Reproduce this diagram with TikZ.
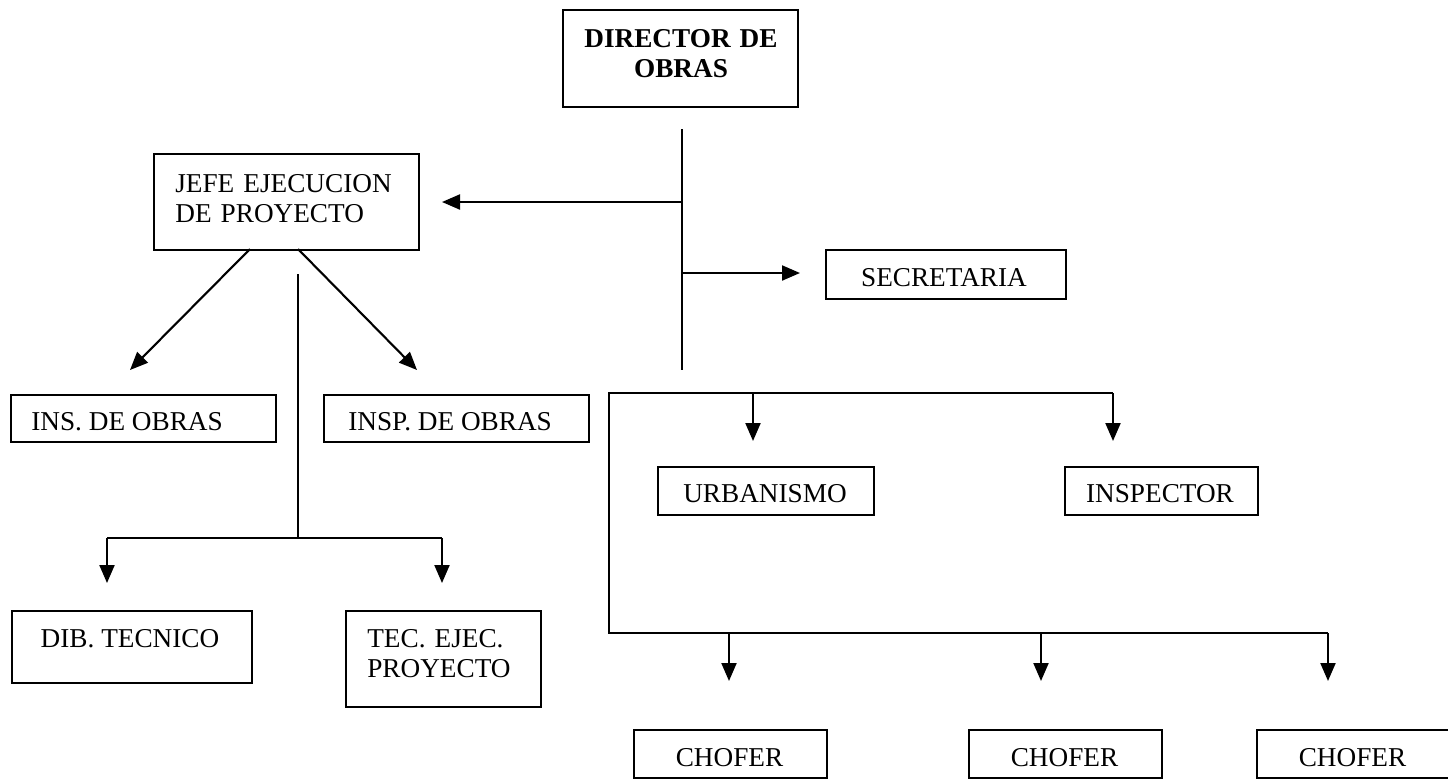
\documentclass[tikz,border=0pt]{standalone}
\usepackage{fontspec}
\setmainfont{Liberation Serif}
\usetikzlibrary{arrows.meta}
\begin{document}
\begin{tikzpicture}[x=0.02cm,y=-0.02cm,
  box/.style={draw,line width=1.1pt,inner sep=0pt,anchor=north west},
  txt/.style={inner sep=0pt,font=\fontsize{15.5}{17.6}\selectfont},
  conn/.style={line width=1.2pt},
  arr/.style={line width=1.2pt,-{Triangle[length=0.36cm,width=0.30cm]}}]
\useasboundingbox (0,0) rectangle (1448,782);
% boxes
\node[box,minimum width=4.70cm,minimum height=1.94cm] (dir) at (562,9) {};
\node[box,minimum width=5.30cm,minimum height=1.92cm] (jefe) at (153,153) {};
\node[box,minimum width=4.80cm,minimum height=0.98cm] (sec) at (825,249) {};
\node[box,minimum width=5.30cm,minimum height=0.94cm] (ins) at (10,394) {};
\node[box,minimum width=5.30cm,minimum height=0.94cm] (insp) at (323,394) {};
\node[box,minimum width=4.32cm,minimum height=0.96cm] (urb) at (657,466) {};
\node[box,minimum width=3.86cm,minimum height=0.96cm] (inspr) at (1064,466) {};
\node[box,minimum width=4.80cm,minimum height=1.44cm] (dib) at (11,610) {};
\node[box,minimum width=3.90cm,minimum height=1.92cm] (tec) at (345,610) {};
\node[box,minimum width=3.86cm,minimum height=0.96cm] (ch1) at (633,729) {};
\node[box,minimum width=3.86cm,minimum height=0.96cm] (ch2) at (968,729) {};
\node[box,minimum width=3.86cm,minimum height=0.96cm] (ch3) at (1256,729) {};
% texts
\node[txt,anchor=base,text width=4.5cm,align=center,font=\fontsize{15.5}{17.6}\selectfont\bfseries] (dirt) at (681,47) {DIRECTOR DE\\OBRAS};
\node[txt,anchor=base west,text width=5cm,align=left] (jefet) at (175,192) {JEFE EJECUCION\\DE PROYECTO};
\node[txt,anchor=base] (sect) at (944,286) {SECRETARIA};
\node[txt,anchor=base west] (inst) at (31,430) {INS. DE OBRAS};
\node[txt,anchor=base west] (inspt) at (348,430) {INSP. DE OBRAS};
\node[txt,anchor=base] (urbt) at (765,502) {URBANISMO};
\node[txt,anchor=base] (insprt) at (1160,502) {INSPECTOR};
\node[txt,anchor=base] (dibt) at (130,647) {DIB. TECNICO};
\node[txt,anchor=base west,text width=3.5cm,align=left] (tect) at (367,647) {TEC. EJEC.\\PROYECTO};
\node[txt,anchor=base] (ch1t) at (729.5,766) {CHOFER};
\node[txt,anchor=base] (ch2t) at (1064.5,766) {CHOFER};
\node[txt,anchor=base] (ch3t) at (1352.5,766) {CHOFER};
% coordinates
\coordinate (m1) at (682,129);
\coordinate (m2) at (682,370);
\coordinate (mj) at (682,202);
\coordinate (jt) at (442,202);
\coordinate (ms) at (682,273);
\coordinate (st) at (800,273);
\coordinate (j1) at (250,249);
\coordinate (j2) at (298,249);
\coordinate (d1) at (130,370);
\coordinate (d2) at (417,370);
\coordinate (v1) at (298,274);
\coordinate (v2) at (298,538);
\coordinate (h1) at (107,538);
\coordinate (h2) at (442,538);
\coordinate (a1) at (107,583);
\coordinate (a2) at (442,583);
\coordinate (r1) at (609,393);
\coordinate (r2) at (1113,393);
\coordinate (r3) at (609,633);
\coordinate (r4) at (1328,633);
\coordinate (u1) at (753,393);
\coordinate (u2) at (753,441);
\coordinate (p2) at (1113,441);
\coordinate (c1) at (729,633);
\coordinate (c1t) at (729,681);
\coordinate (c2) at (1041,633);
\coordinate (c2t) at (1041,681);
\coordinate (c3t) at (1328,681);
% connectors
\draw[conn] (m1) -- (m2);
\draw[arr] (mj) -- (jt);
\draw[arr] (ms) -- (st);
\draw[arr] (j1) -- (d1);
\draw[arr] (j2) -- (d2);
\draw[conn] (v1) -- (v2);
\draw[conn] (h1) -- (h2);
\draw[arr] (h1) -- (a1);
\draw[arr] (h2) -- (a2);
\draw[conn] (r2) -- (r1) -- (r3) -- (r4);
\draw[arr] (u1) -- (u2);
\draw[arr] (r2) -- (p2);
\draw[arr] (c1) -- (c1t);
\draw[arr] (c2) -- (c2t);
\draw[arr] (r4) -- (c3t);
\end{tikzpicture}
\end{document}
